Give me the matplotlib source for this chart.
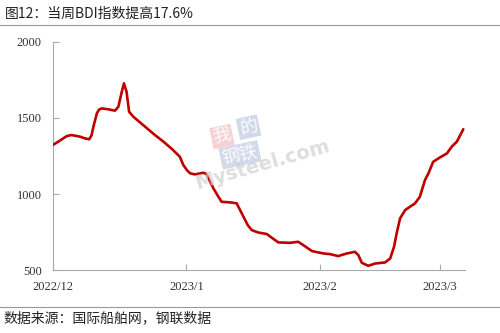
import matplotlib
matplotlib.use("Agg")
import matplotlib.pyplot as plt
import pandas as pd

# Data (day offset from 2022-12-01, BDI value)
days = [0, 1.2, 3.2, 4.3, 6.3, 7.4, 8.4, 8.95, 9.4, 10.2, 10.7, 11.3, 12.9, 14.4, 15.2,
        16.0, 16.5, 17.1, 17.7, 18.7, 21.4, 23.7, 25.7, 27.7, 29.5, 30.3, 31.2, 31.9,
        33.0, 35.0, 35.7, 37.3, 38.4, 39.2, 41.2, 42.7, 44.3, 45.3, 46.2, 47.7, 49.7,
        50.9, 52.4, 55.1, 57.0, 58.2, 60.2, 62.9, 64.4, 66.3, 68.3, 70.2, 71.0, 71.8,
        73.3, 74.9, 77.2, 78.4, 79.3, 79.9, 80.7, 81.9, 84.2, 85.3, 86.5, 87.3, 88.4,
        90.0, 91.6, 92.7, 93.9, 95.4]
bdi = [1323, 1344, 1381, 1388, 1377, 1366, 1360, 1385, 1443, 1531, 1555, 1563, 1557, 1548, 1574,
       1673, 1728, 1673, 1541, 1508, 1443, 1388, 1344, 1295, 1245, 1191, 1155, 1136,
       1129, 1140, 1131, 1037, 985, 949, 945, 939, 850, 795, 763, 747, 737,
       712, 682, 679, 686, 664, 625, 609, 605, 592, 609, 620, 598, 548,
       528, 543, 550, 576, 653, 741, 840, 895, 939, 982, 1092, 1136, 1212,
       1241, 1267, 1311, 1344, 1426]
start = pd.Timestamp("2022-12-01")
tick_dates = ["2022-12-01", "2023-01-01", "2023-02-01", "2023-03-01"]
tick_labels = ["2022/12", "2023/1", "2023/2", "2023/3"]
yticks = [500, 1000, 1500, 2000]

title = "图12：当周BDI指数提高17.6%"
source = "数据来源：国际船舶网，钢联数据"

cjk = ["Noto Sans CJK SC", "DejaVu Sans"]
serif = "Liberation Serif"

fig = plt.figure(figsize=(5, 3.33), dpi=100)
ax = fig.add_axes([0.106, 0.189, 0.824, 0.685])
ax.plot(days, bdi, color="#C00000", lw=1.9, solid_joinstyle="round", solid_capstyle="round", zorder=3)

tick_pos = [(pd.Timestamp(d) - start).days for d in tick_dates]
ax.set_xticks(tick_pos)
ax.set_xticklabels(tick_labels, family=serif, fontsize=9, color="#333333")
ax.set_yticks(yticks)
ax.set_yticklabels([str(v) for v in yticks], family=serif, fontsize=9, color="#333333")
ax.set_xlim(0, 95.8)
ax.set_ylim(500, 2000)
ax.tick_params(axis="both", direction="in", length=4, color="#AAAAAA", width=0.8)
ax.tick_params(axis="x", pad=8)
ax.tick_params(axis="y", pad=8)
for s in ["top", "right"]:
    ax.spines[s].set_visible(False)
for s in ["left", "bottom"]:
    ax.spines[s].set_color("#AAAAAA")
    ax.spines[s].set_linewidth(0.8)

# watermark
fig.text(0.444, 0.59, "我", family=cjk, fontsize=13, color="white", rotation=12,
         ha="center", va="center", alpha=0.9,
         bbox=dict(boxstyle="square,pad=0.1", fc="#F4C4C9", ec="none", alpha=0.75))
fig.text(0.497, 0.618, "的", family=cjk, fontsize=13, color="white", rotation=12,
         ha="center", va="center", alpha=0.9,
         bbox=dict(boxstyle="square,pad=0.1", fc="#C3CEE2", ec="none", alpha=0.75))
fig.text(0.48, 0.535, "钢铁", family=cjk, fontsize=13, color="white", rotation=12,
         ha="center", va="center", alpha=0.9,
         bbox=dict(boxstyle="square,pad=0.1", fc="#C3CEE2", ec="none", alpha=0.75))
fig.text(0.525, 0.505, "Mysteel.com", fontsize=14, color="#D0D0D0", alpha=0.7,
         rotation=16, ha="center", va="center", fontweight="bold")

fig.text(0.01, 0.958, title, family=cjk, fontsize=10, color="#222222", va="center", ha="left")
fig.add_artist(plt.Line2D([0, 1], [0.925, 0.925], transform=fig.transFigure, color="#999999", lw=0.8))
fig.add_artist(plt.Line2D([0, 1], [0.079, 0.079], transform=fig.transFigure, color="#999999", lw=0.8))
fig.text(0.006, 0.045, source, family=cjk, fontsize=10, color="#222222", va="center", ha="left")

fig.savefig("out.png", dpi=100)
